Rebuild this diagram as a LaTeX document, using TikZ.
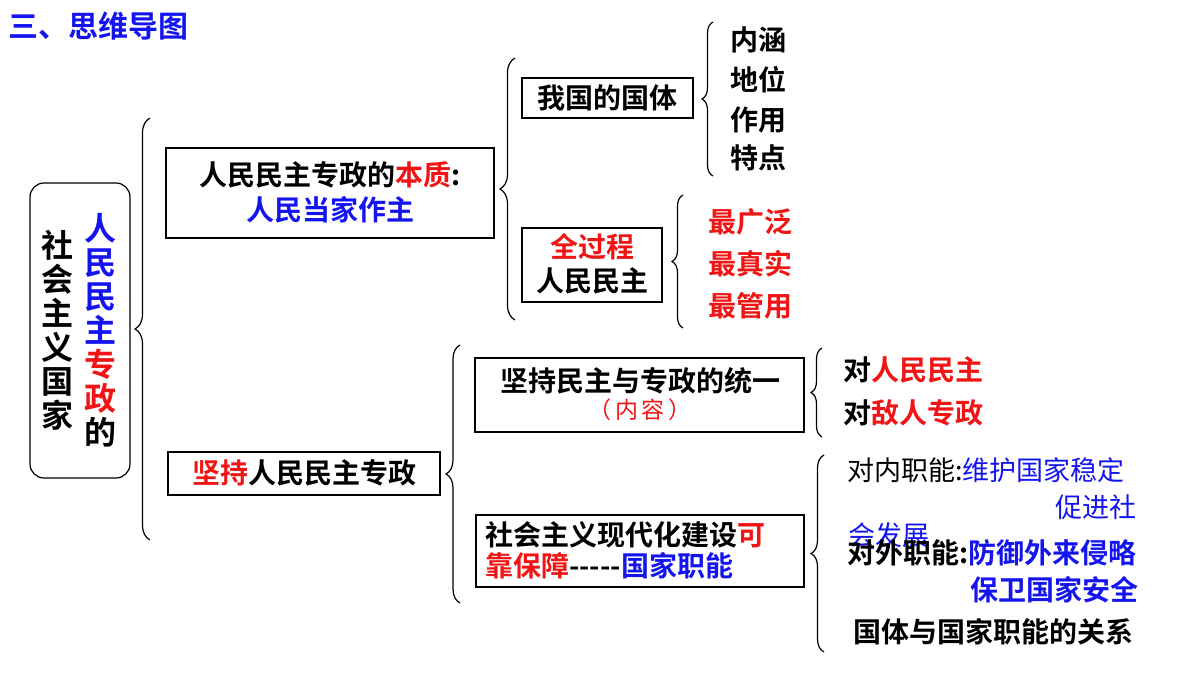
\documentclass[tikz,border=0pt]{standalone}
\usepackage{fontspec}
\setmainfont{Noto Sans CJK SC}
\newfontfamily\cjkb{Noto Sans CJK SC Bold}
\newfontfamily\cjkr{Noto Sans CJK SC}
\usetikzlibrary{decorations.pathreplacing}
\definecolor{myblue}{RGB}{20,20,240}
\definecolor{myred}{RGB}{240,20,20}
\begin{document}
\begin{tikzpicture}[x=1pt,y=-1pt,
  bx/.style={draw=black,line width=1.2pt,inner sep=0pt},
  br/.style={decorate,decoration={brace,amplitude=#1},line width=1.2pt},
  br/.default=14pt,
  t/.style={font=\cjkb\fontsize{28}{32}\selectfont,inner sep=0pt,anchor=west},
  s/.style={font=\cjkr\fontsize{27}{32}\selectfont,inner sep=0pt,anchor=west}]
\useasboundingbox (0,0) rectangle (1200,675);
\node[font=\cjkb\fontsize{30}{32}\selectfont,text=myblue,anchor=west,inner sep=0pt] (title) at (8,26) {三、思维导图};
% left box
\draw[line width=1.2pt,rounded corners=14pt] (30,183) rectangle (130,478);
\node[font=\cjkb\fontsize{32}{34}\selectfont,align=center,inner sep=0pt] (c1) at (57,330) {社\\会\\主\\义\\国\\家};
\node[font=\cjkb\fontsize{32}{34}\selectfont,align=center,inner sep=0pt] (c2) at (100,330) {\textcolor{myblue}{人}\\\textcolor{myblue}{民}\\\textcolor{myblue}{民}\\\textcolor{myblue}{主}\\\textcolor{myred}{专}\\\textcolor{myred}{政}\\的};
\coordinate (b1t) at (150,118); \coordinate (b1b) at (150,540);
\draw[br=15pt] (b1b) -- (b1t);
% box1
\draw[bx] (166,148) rectangle (494,238);
\node[t,anchor=center] (n1a) at (330,175) {人民民主专政的\textcolor{myred}{本质}:};
\node[t,anchor=center,text=myblue] (n1b) at (330,210) {人民当家作主};
% box2
\draw[bx] (168,452) rectangle (440,495);
\node[t,anchor=center] (n2) at (304,473) {\textcolor{myred}{坚持}人民民主专政};
% brace2
\coordinate (b2t) at (515,58); \coordinate (b2b) at (515,320);
\draw[br=15pt] (b2b) -- (b2t);
\draw[bx] (522,78) rectangle (693,118);
\node[t,anchor=center] (gt) at (607,98) {我国的国体};
\coordinate (b3t) at (713,22); \coordinate (b3b) at (713,176);
\draw[br=11pt] (b3b) -- (b3t);
\node[t] (i1) at (730,40) {内涵};
\node[t] (i2) at (730,80) {地位};
\node[t] (i3) at (730,120) {作用};
\node[t] (i4) at (730,158) {特点};
\draw[bx] (522,228) rectangle (662,302);
\node[t,anchor=center,text=myred] (q1) at (592,247) {全过程};
\node[t,anchor=center] (q2) at (592,281) {人民民主};
\coordinate (b4t) at (683,195); \coordinate (b4b) at (683,328);
\draw[br=11pt] (b4b) -- (b4t);
\node[t,text=myred] (r1) at (708,222) {最广泛};
\node[t,text=myred] (r2) at (708,264) {最真实};
\node[t,text=myred] (r3) at (708,306) {最管用};
% brace5
\coordinate (b5t) at (460,345); \coordinate (b5b) at (460,603);
\draw[br=14pt] (b5b) -- (b5t);
\draw[bx] (475,358) rectangle (804,432);
\node[t,anchor=center] (u1) at (640,381) {坚持民主与专政的统一};
\node[s,anchor=center,text=myred,font=\cjkr\fontsize{23}{26}\selectfont] (u2) at (640,410) {（\,内\,容\,）};
\coordinate (b6t) at (822,348); \coordinate (b6b) at (822,437);
\draw[br=11pt] (b6b) -- (b6t);
\node[t] (v1) at (843,370) {对\textcolor{myred}{人民民主}};
\node[t] (v2) at (843,413) {对\textcolor{myred}{敌人专政}};
\draw[bx] (476,515) rectangle (804,587);
\node[t] (w1) at (485,535) {社会主义现代化建设\textcolor{myred}{可}};
\node[t] (w2) at (485,566) {\textcolor{myred}{靠保障}-----\textcolor{myblue}{国家职能}};
\coordinate (b7t) at (824,455); \coordinate (b7b) at (824,652);
\draw[br=13pt] (b7b) -- (b7t);
\node[s] (x1) at (847,470) {对内职能:\textcolor{myblue}{维护国家稳定}};
\node[s,text=myblue] (x2) at (1055,507) {促进社};
\node[s,text=myblue] (x3) at (848,535) {会发展};
\node[t] (y1) at (847,553) {对外职能:\textcolor{myblue}{防御外来侵略}};
\node[t,text=myblue] (y2) at (970,590) {保卫国家安全};
\node[t] (z1) at (853,632) {国体与国家职能的关系};
\end{tikzpicture}
\end{document}
